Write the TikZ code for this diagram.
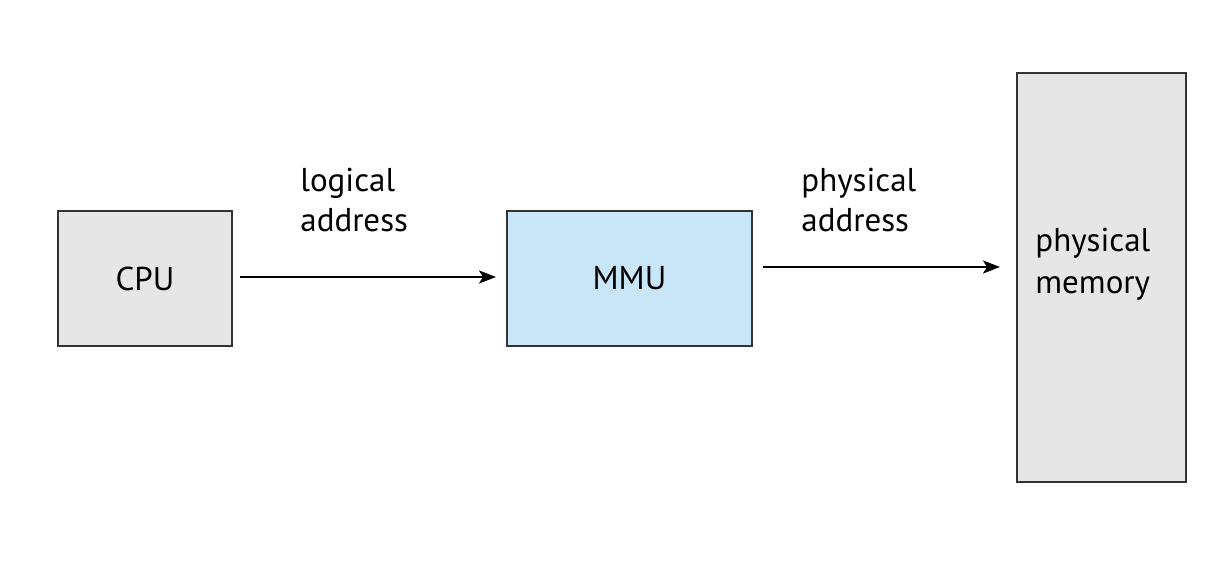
\documentclass[tikz,border=0pt]{standalone}
\usepackage{fontspec}
\setmainfont{PT Sans}
\usetikzlibrary{arrows.meta,calc}
\definecolor{boxgray}{HTML}{E6E6E6}
\definecolor{mmublue}{HTML}{C8E6F8}
\definecolor{edge}{HTML}{333333}
\tikzset{
  unit/.style={draw=edge, line width=1pt, inner sep=0pt, font=\fontsize{16.5}{20}\selectfont},
  flow/.style={line width=1pt, -{Stealth[length=8.5pt,width=6.5pt,inset=2pt]}},
  caption/.style={inner sep=0pt, align=left, anchor=west, font=\fontsize{16.5}{20}\selectfont},
}
\begin{document}
\begin{tikzpicture}[x=0.5pt,y=-0.5pt]
  \useasboundingbox (0,0) rectangle (1228,572);
  % processor, translation unit and memory
  \node[unit, fill=boxgray, minimum width=87pt, minimum height=67.5pt] (cpu) at (145,278.5) {CPU};
  \node[unit, fill=mmublue, minimum width=122.5pt, minimum height=67.5pt] (mmu) at (629.5,278.5) {MMU};
  \node[unit, fill=boxgray, minimum width=84.5pt, minimum height=204.5pt] (mem) at (1101.5,277.5) {};
  \node[caption, font=\fontsize{16.5}{21}\selectfont] (memtext) at (1035,264) {physical\\memory};
  % address paths
  \draw[flow] ([xshift=3.5pt,yshift=0.75pt]cpu.east) -- ([xshift=-5pt,yshift=0.75pt]mmu.west);
  \draw[flow] ([xshift=5pt,yshift=5.75pt]mmu.east) coordinate (pa) -- ([xshift=-8pt]pa -| mem.west);
  % path labels
  \node[caption] (logical) at (300,200) {logical\\address};
  \node[caption] (physical) at (801,200) {physical\\address};
\end{tikzpicture}
\end{document}
